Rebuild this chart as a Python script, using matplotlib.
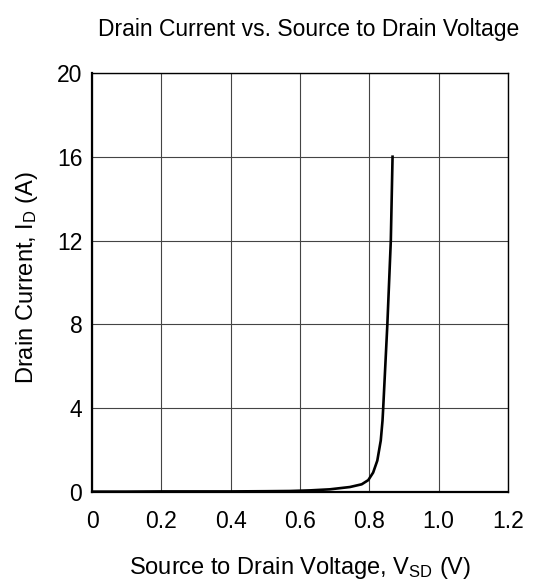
import matplotlib.pyplot as plt

# data
vsd = [0.0, 0.1, 0.2, 0.3, 0.4, 0.5, 0.571, 0.629, 0.686, 0.744, 0.778, 0.797,
       0.811, 0.823, 0.833, 0.838, 0.840, 0.852, 0.862, 0.867]
i_d = [0.02, 0.02, 0.03, 0.03, 0.03, 0.04, 0.05, 0.08, 0.13, 0.24, 0.37, 0.57,
       0.93, 1.5, 2.46, 3.4, 4.0, 8.0, 12.0, 16.0]
x_ticks = [0, 0.2, 0.4, 0.6, 0.8, 1.0, 1.2]
x_labels = ['0', '0.2', '0.4', '0.6', '0.8', '1.0', '1.2']
y_ticks = [0, 4, 8, 12, 16, 20]

plt.rcParams['font.family'] = ['Liberation Sans', 'DejaVu Sans']
plt.rcParams['mathtext.fontset'] = 'custom'
plt.rcParams['mathtext.rm'] = 'Liberation Sans'
plt.rcParams['mathtext.it'] = 'Liberation Sans'

fig = plt.figure(figsize=(5.35, 5.83), dpi=100)
ax = fig.add_axes([0.172, 0.156, 0.7775, 0.719])

ax.plot(vsd, i_d, color='black', linewidth=1.9, solid_joinstyle='round')

ax.set_xlim(0, 1.2)
ax.set_ylim(0, 20)
ax.set_xticks(x_ticks)
ax.set_xticklabels(x_labels)
ax.set_yticks(y_ticks)
ax.grid(True, color='#444444', linewidth=0.8)
ax.set_axisbelow(True)
ax.tick_params(length=0, labelsize=16.5)
ax.tick_params(axis='x', pad=13)
ax.tick_params(axis='y', pad=7)
for s in ax.spines.values():
    s.set_linewidth(1.0)
ax.spines['left'].set_linewidth(1.6)
ax.spines['bottom'].set_linewidth(1.6)

ax.set_xlabel(r'Source to Drain Voltage, V$_{\rm SD}$ (V)', fontsize=17, labelpad=16)
ax.set_ylabel(r'Drain Current, I$_{\rm D}$ (A)', fontsize=17)
ax.yaxis.set_label_coords(-0.125, 0.512)
fig.text(0.576, 0.949, 'Drain Current vs. Source to Drain Voltage', fontsize=16.5,
         ha='center', va='center')

fig.savefig('out.png', dpi=100)
